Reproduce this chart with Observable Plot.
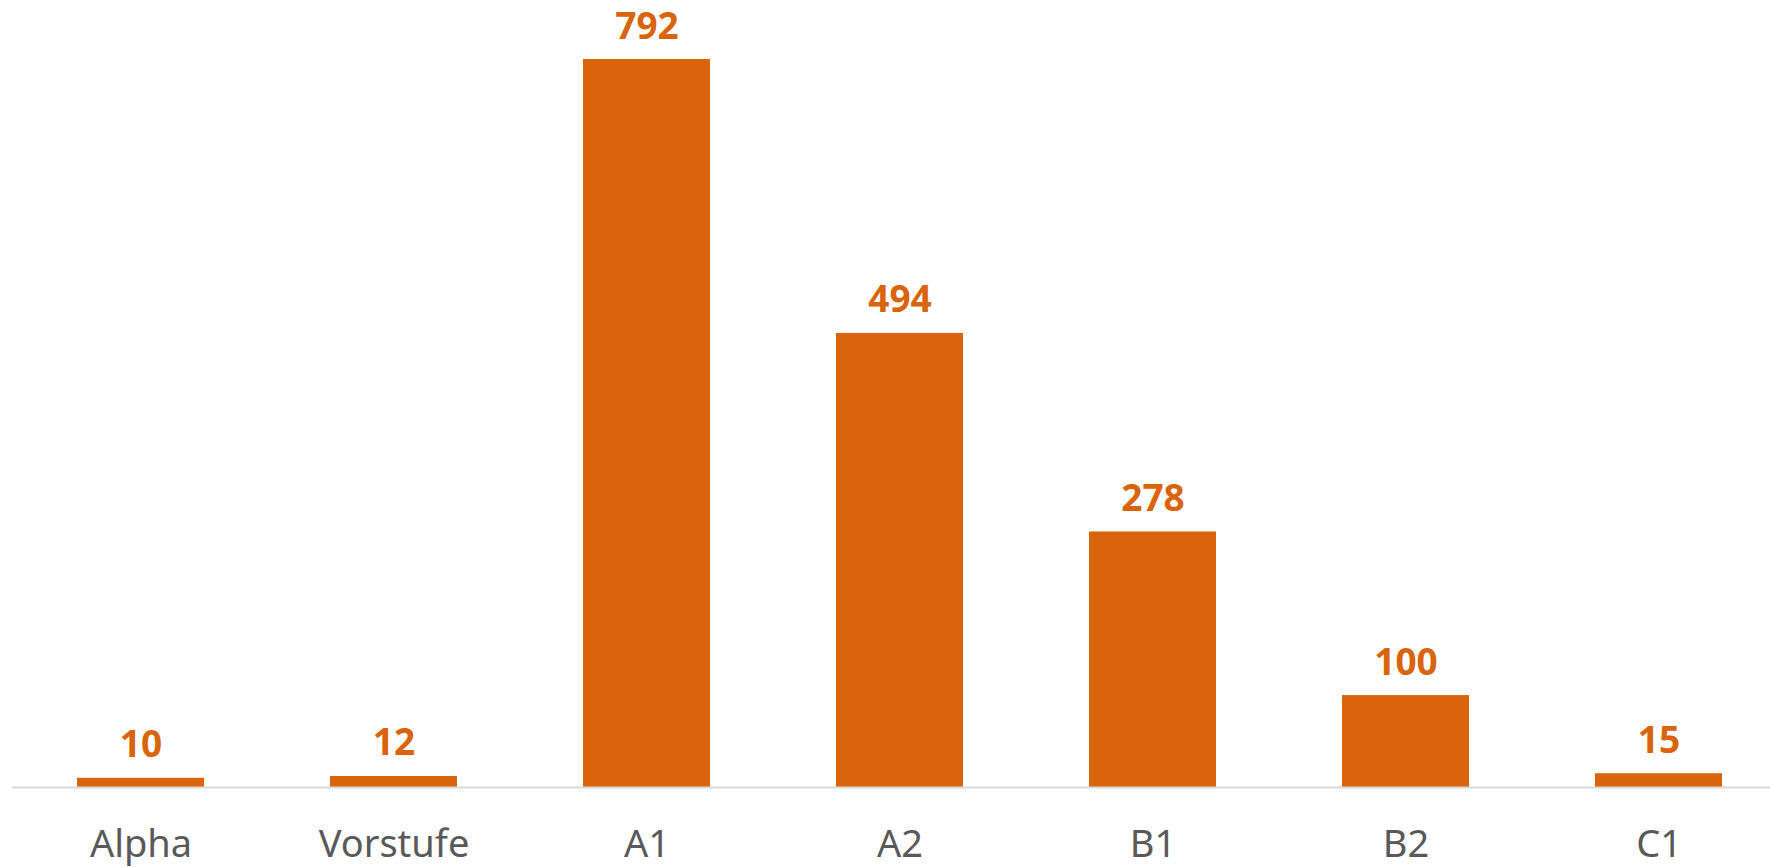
<!DOCTYPE html>
<html>
<head>
<meta charset="utf-8">
<script src="https://cdn.jsdelivr.net/npm/d3@7"></script>
<script src="https://cdn.jsdelivr.net/npm/@observablehq/plot@0.6"></script>
<style>
  html, body { margin: 0; padding: 0; background: #fff; }
  #chart svg { display: block; }
</style>
</head>
<body>
<div id="chart"></div>
<script>
const categories = ["Alpha", "Vorstufe", "A1", "A2", "B1", "B2", "C1"];
const values = [10, 12, 792, 494, 278, 100, 15];

const data = categories.map((c, i) => ({category: c, value: values[i]}));
const orange = "#D9640B";

const chart = Plot.plot({
  width: 1770,
  height: 867,
  marginTop: 59,
  marginBottom: 80,
  marginLeft: 12,
  marginRight: 0,
  style: {fontFamily: "'Noto Sans', 'Open Sans', sans-serif", background: "#fff"},
  x: {domain: categories, range: [12.25, 1787], paddingInner: 0.5, paddingOuter: 0.25, label: null},
  y: {domain: [0, 792], nice: false, axis: null},
  marks: [
    Plot.barY(data, {x: "category", y: "value", fill: orange}),
    Plot.ruleY([0], {stroke: "#D9D9D9", strokeWidth: 2}),
    Plot.text(data, {x: "category", y: "value", text: d => String(d.value), fill: orange, fontWeight: "bold", fontSize: 37, lineAnchor: "bottom", dy: -21}),
    Plot.axisX({tickSize: 0, tickPadding: 43, fontSize: 38, fill: "#595959", label: null})
  ]
});
document.getElementById("chart").appendChild(chart);
</script>
</body>
</html>
